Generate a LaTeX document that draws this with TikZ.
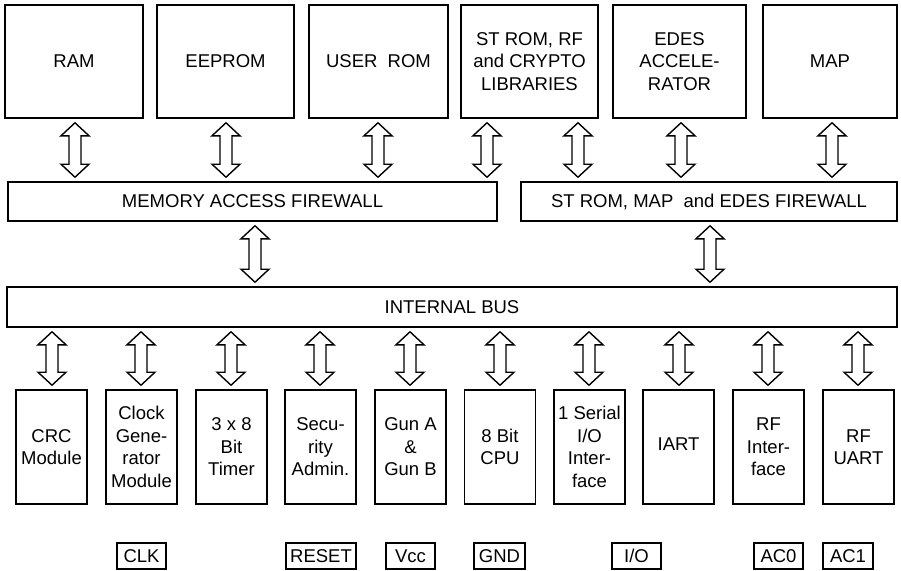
\documentclass[tikz,border=0pt]{standalone}
\usepackage{fontspec}
\setmainfont{Liberation Sans}
\usetikzlibrary{calc}
\tikzset{
  blk/.style={draw, line width=1.6pt, align=center, inner sep=0pt,
    font=\fontsize{18.5}{22.5}\selectfont},
  topbox/.style={blk, minimum height=113pt},
  fw/.style={blk, minimum height=39pt},
  modbox/.style={blk, minimum width=71pt, minimum height=114pt},
  pinbox/.style={blk, line width=1.3pt, minimum height=26pt},
  arrowst/.style={draw, line width=1.4pt, fill=white, line join=miter},
}
\newcommand\darr[3]{%
  \draw[arrowst] let \p1=(#2.south), \p2=(#3.north) in
   (#1pt,\y1-4pt) -- (#1pt+14pt,\y1-17pt) -- (#1pt+6pt,\y1-17pt) --
   (#1pt+6pt,\y2+17pt) -- (#1pt+14pt,\y2+17pt) -- (#1pt,\y2+4pt) --
   (#1pt-14pt,\y2+17pt) -- (#1pt-6pt,\y2+17pt) -- (#1pt-6pt,\y1-17pt) --
   (#1pt-14pt,\y1-17pt) -- cycle;}
\begin{document}
\begin{tikzpicture}[x=1pt,y=-1pt]
\useasboundingbox (0,0) rectangle (901,570);
% top row
\node[topbox, minimum width=138pt] (ram) at (74,61.5) {RAM};
\node[topbox, minimum width=137pt] (eeprom) at (225.5,61.5) {EEPROM};
\node[topbox, minimum width=139pt] (urom) at (378.5,61.5) {USER\ \ ROM};
\node[topbox, minimum width=137pt] (strom) at (529.5,61.5) {ST ROM, RF\\and CRYPTO\\LIBRARIES};
\node[topbox, minimum width=133pt] (edes) at (679.5,61.5) {EDES\\ACCELE-\\RATOR};
\node[topbox, minimum width=134pt] (map) at (830,61.5) {MAP};
% firewalls
\node[fw, minimum width=489pt] (maf) at (252.5,201.5) {MEMORY ACCESS FIREWALL};
\node[fw, minimum width=376pt] (smef) at (709,201.5) {ST ROM, MAP\ \ and EDES FIREWALL};
% bus
\node[blk, minimum width=890pt, minimum height=40pt] (bus) at (452,307) {INTERNAL BUS};
% modules
\node[modbox] (crc) at (51.5,447) {CRC\\Module};
\node[modbox] (clk) at (141.5,447) {Clock\\Gene-\\rator\\Module};
\node[modbox] (tim) at (231.5,447) {3 x 8\\Bit\\Timer};
\node[modbox] (sec) at (320.5,447) {Secu-\\rity\\Admin.};
\node[modbox] (gun) at (410.5,447) {Gun A\\\&\\Gun B};
\node[modbox] (cpu) at (500,447) {8 Bit\\CPU};
\node[modbox] (sio) at (589.5,447) {1 Serial\\I/O\\Inter-\\face};
\node[modbox] (iart) at (678.5,447) {\raisebox{5pt}{IART}};
\node[modbox] (rfi) at (768.5,447) {RF\\Inter-\\face};
\node[modbox] (rfu) at (858.5,447) {RF\\UART};
% pins
\node[pinbox, minimum width=49pt] (pclk) at (141.5,556) {CLK};
\node[pinbox, minimum width=70pt] (prst) at (321,556) {RESET};
\node[pinbox, minimum width=49pt] (pvcc) at (410.5,556) {Vcc};
\node[pinbox, minimum width=51pt] (pgnd) at (499.5,556) {GND};
\node[pinbox, minimum width=49pt] (pio) at (636.5,556) {I/O};
\node[pinbox, minimum width=49pt] (pac0) at (778.5,556) {AC0};
\node[pinbox, minimum width=50pt] (pac1) at (848,556) {AC1};
% arrows top
\darr{75}{ram}{maf}
\darr{226}{eeprom}{maf}
\darr{378}{urom}{maf}
\darr{487}{strom}{maf}
\darr{578}{strom}{smef}
\darr{681}{edes}{smef}
\darr{832}{map}{smef}
% firewall to bus
\darr{255}{maf}{bus}
\darr{710}{smef}{bus}
% bus to modules
\darr{52}{bus}{crc}
\darr{141}{bus}{clk}
\darr{231}{bus}{tim}
\darr{320}{bus}{sec}
\darr{410}{bus}{gun}
\darr{500}{bus}{cpu}
\darr{589}{bus}{sio}
\darr{679}{bus}{iart}
\darr{768}{bus}{rfi}
\darr{858}{bus}{rfu}
\end{tikzpicture}
\end{document}
